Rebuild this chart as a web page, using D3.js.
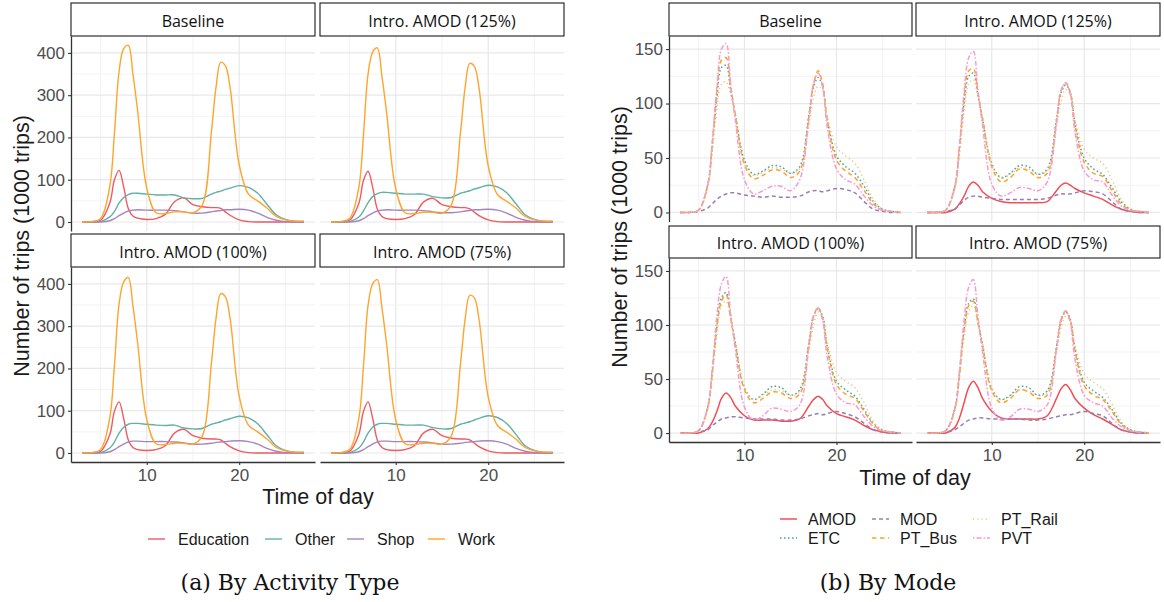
<!DOCTYPE html>
<html>
<head>
<meta charset="utf-8">
<script src="https://cdn.jsdelivr.net/npm/d3@7"></script>
<style>
  body { margin: 0; background: #fff; }
</style>
</head>
<body>
<svg id="fig"></svg>
<script>
// time of day (hours), shared by every series
var time_points = [3, 4, 5, 6, 6.5, 7, 7.5, 8, 8.5, 9, 10, 11, 12, 13, 14, 15, 16, 17, 17.5, 18, 18.5, 19, 20, 21, 22, 23, 24, 25, 26, 27];

var panel_names = ['Baseline', 'Intro. AMOD (125%)', 'Intro. AMOD (100%)', 'Intro. AMOD (75%)'];

// (a) by activity type, 1000 trips
var activity_types = ['Education', 'Other', 'Shop', 'Work'];

var edu_base = [0, 0, 4, 45, 100, 122, 83, 32, 14, 9, 6, 8, 18, 48, 57, 41, 36, 34, 34, 32, 24, 16, 5, 1, 0, 0, 0, 0, 0, 0];
var other_base = [0, 0, 1, 12, 25, 45, 58, 65, 68, 68, 66, 64, 64, 64, 57, 55, 56, 66, 70, 73, 77, 80, 86, 82, 68, 42, 17, 6, 2, 1];
var shop_base = [0, 0, 0, 3, 8, 15, 21, 26, 28, 29, 28, 28, 28, 27, 24, 21, 21, 24, 26, 27, 29, 29, 30, 28, 21, 11, 4, 1, 0, 0];
var work_base = [0, 1, 8, 85, 210, 356, 410, 418, 350, 265, 80, 22, 20, 24, 24, 22, 40, 215, 320, 378, 370, 320, 135, 66, 50, 33, 13, 5, 2, 2];

var edu_125 = [0, 0, 4, 44, 98, 120, 82, 31, 13, 8, 6, 8, 17, 47, 56, 41, 36, 34, 34, 31, 23, 15, 5, 1, 0, 0, 0, 0, 0, 0];
var other_125 = [0, 0, 1, 12, 26, 46, 60, 67, 70, 70, 68, 66, 66, 66, 60, 57, 58, 68, 71, 74, 78, 81, 87, 83, 69, 43, 17, 6, 2, 1];
var shop_125 = [0, 0, 0, 3, 8, 15, 21, 26, 28, 29, 28, 28, 28, 27, 24, 22, 22, 24, 26, 27, 29, 29, 30, 28, 21, 11, 4, 1, 0, 0];
var work_125 = [0, 1, 8, 82, 205, 350, 402, 412, 345, 260, 78, 22, 20, 23, 23, 21, 40, 212, 318, 375, 368, 318, 133, 65, 49, 33, 13, 5, 2, 2];

var edu_100 = [0, 0, 4, 44, 99, 121, 82, 31, 13, 8, 6, 8, 17, 47, 56, 41, 35, 33, 33, 31, 23, 15, 5, 1, 0, 0, 0, 0, 0, 0];
var other_100 = [0, 0, 1, 12, 26, 47, 61, 68, 70, 70, 68, 66, 65, 66, 59, 57, 58, 68, 71, 74, 78, 81, 87, 83, 69, 43, 17, 6, 2, 1];
var shop_100 = [0, 0, 0, 3, 8, 15, 21, 26, 28, 28, 27, 27, 27, 26, 24, 21, 21, 23, 25, 26, 27, 28, 29, 27, 21, 11, 4, 1, 0, 0];
var work_100 = [0, 1, 8, 84, 208, 352, 405, 415, 348, 262, 79, 22, 20, 23, 23, 21, 40, 214, 320, 377, 370, 320, 134, 66, 50, 33, 13, 5, 2, 2];

var edu_75 = [0, 0, 4, 44, 98, 121, 82, 31, 13, 8, 6, 8, 17, 47, 56, 41, 35, 33, 33, 31, 23, 15, 5, 1, 0, 0, 0, 0, 0, 0];
var other_75 = [0, 0, 1, 12, 26, 47, 61, 68, 70, 70, 68, 66, 66, 66, 60, 57, 58, 68, 71, 74, 78, 82, 88, 84, 70, 44, 17, 6, 2, 1];
var shop_75 = [0, 0, 0, 3, 8, 15, 21, 26, 28, 28, 27, 27, 27, 26, 24, 21, 21, 23, 25, 26, 27, 28, 29, 27, 21, 11, 4, 1, 0, 0];
var work_75 = [0, 1, 8, 82, 204, 349, 400, 410, 344, 259, 78, 22, 20, 23, 23, 21, 40, 211, 316, 373, 367, 317, 133, 65, 49, 33, 13, 5, 2, 2];

// (b) by mode, 1000 trips (no AMOD in the baseline)
var modes = ['AMOD', 'ETC', 'MOD', 'PT_Bus', 'PT_Rail', 'PVT'];

var etc_base = [0, 0, 2, 25, 60, 105, 133, 135, 112, 90, 48, 35, 38, 43, 42, 36, 42, 90, 115, 124, 115, 85, 52, 42, 36, 24, 10, 3, 1, 0];
var mod_base = [0, 0, 1, 4, 8, 12, 15, 17, 18, 18, 16, 15, 14, 15, 14, 14, 15, 19, 20, 20, 19, 20, 22, 21, 18, 10, 3, 1, 0, 0];
var bus_base = [0, 0, 2, 25, 62, 110, 140, 142, 115, 90, 44, 31, 34, 39, 38, 32, 38, 88, 118, 130, 118, 85, 48, 38, 32, 20, 8, 2, 1, 0];
var rail_base = [0, 0, 2, 22, 55, 95, 118, 120, 108, 88, 46, 34, 37, 41, 40, 36, 40, 80, 105, 116, 112, 88, 60, 52, 45, 30, 12, 3, 1, 0];
var pvt_base = [0, 0, 2, 25, 65, 115, 150, 155, 118, 85, 30, 17, 20, 24, 24, 20, 30, 85, 118, 128, 115, 78, 40, 30, 26, 15, 6, 2, 1, 0];

var amod_125 = [0, 0, 0, 3, 8, 15, 24, 28, 25, 19, 13, 10, 9, 9, 9, 9, 10, 20, 25, 27, 25, 22, 18, 15, 12, 7, 3, 1, 0, 0];
var etc_125 = [0, 0, 2, 24, 58, 100, 125, 128, 108, 86, 45, 32, 36, 43, 42, 35, 40, 86, 110, 117, 110, 82, 50, 40, 35, 23, 10, 3, 1, 0];
var mod_125 = [0, 0, 1, 3, 7, 11, 14, 15, 15, 14, 13, 12, 12, 12, 12, 12, 13, 16, 17, 17, 17, 18, 20, 19, 17, 10, 3, 1, 0, 0];
var bus_125 = [0, 0, 2, 24, 60, 105, 130, 132, 110, 86, 42, 28, 32, 40, 38, 32, 36, 84, 112, 119, 110, 80, 46, 36, 33, 20, 8, 2, 1, 0];
var rail_125 = [0, 0, 2, 21, 52, 92, 118, 122, 105, 85, 44, 32, 35, 41, 40, 35, 38, 78, 102, 113, 108, 86, 58, 50, 45, 30, 12, 3, 1, 0];
var pvt_125 = [0, 0, 2, 24, 62, 110, 142, 148, 112, 80, 26, 15, 18, 23, 22, 20, 28, 82, 112, 119, 108, 74, 38, 30, 28, 16, 6, 2, 1, 0];

var amod_100 = [0, 0, 0, 4, 10, 20, 32, 37, 33, 25, 16, 12, 12, 12, 11, 11, 13, 25, 31, 34, 31, 25, 18, 15, 12, 7, 3, 1, 0, 0];
var etc_100 = [0, 0, 2, 24, 56, 98, 125, 130, 108, 84, 42, 31, 36, 43, 42, 35, 40, 84, 108, 115, 108, 80, 48, 40, 34, 22, 9, 3, 1, 0];
var mod_100 = [0, 0, 1, 3, 7, 10, 13, 14, 15, 15, 14, 13, 13, 13, 12, 12, 13, 16, 17, 18, 17, 18, 20, 18, 15, 9, 3, 1, 0, 0];
var bus_100 = [0, 0, 2, 23, 56, 98, 122, 128, 106, 82, 40, 28, 32, 38, 37, 32, 36, 82, 108, 116, 106, 78, 45, 36, 32, 20, 8, 2, 1, 0];
var rail_100 = [0, 0, 2, 21, 52, 92, 118, 122, 105, 84, 43, 31, 35, 40, 39, 35, 38, 76, 100, 112, 106, 84, 56, 48, 42, 28, 11, 3, 1, 0];
var pvt_100 = [0, 0, 2, 24, 60, 108, 138, 145, 110, 78, 24, 12, 16, 23, 22, 20, 26, 80, 108, 116, 104, 70, 36, 28, 26, 15, 6, 2, 1, 0];

var amod_75 = [0, 0, 0, 5, 14, 28, 42, 48, 42, 32, 20, 14, 13, 13, 13, 13, 16, 32, 41, 45, 40, 32, 23, 17, 13, 8, 3, 1, 0, 0];
var etc_75 = [0, 0, 2, 23, 54, 95, 120, 124, 104, 82, 41, 31, 35, 43, 42, 35, 39, 80, 104, 112, 105, 78, 47, 39, 33, 22, 9, 3, 1, 0];
var mod_75 = [0, 0, 1, 3, 6, 9, 12, 13, 14, 14, 13, 13, 13, 13, 12, 12, 13, 15, 16, 17, 17, 18, 20, 18, 16, 9, 3, 1, 0, 0];
var bus_75 = [0, 0, 2, 22, 54, 95, 118, 122, 102, 80, 39, 28, 32, 40, 38, 32, 35, 78, 104, 113, 104, 76, 44, 35, 31, 20, 8, 2, 1, 0];
var rail_75 = [0, 0, 2, 20, 50, 88, 112, 118, 100, 82, 42, 31, 34, 40, 39, 35, 37, 74, 98, 108, 104, 82, 55, 47, 41, 27, 11, 3, 1, 0];
var pvt_75 = [0, 0, 2, 23, 58, 104, 135, 142, 108, 75, 23, 12, 15, 22, 22, 20, 26, 78, 106, 113, 102, 68, 35, 28, 25, 14, 6, 2, 1, 0];

// tables keyed by panel -> series
var activity_table = {
  'Baseline': { Education: edu_base, Other: other_base, Shop: shop_base, Work: work_base },
  'Intro. AMOD (125%)': { Education: edu_125, Other: other_125, Shop: shop_125, Work: work_125 },
  'Intro. AMOD (100%)': { Education: edu_100, Other: other_100, Shop: shop_100, Work: work_100 },
  'Intro. AMOD (75%)': { Education: edu_75, Other: other_75, Shop: shop_75, Work: work_75 }
};
var mode_table = {
  'Baseline': { AMOD: null, ETC: etc_base, MOD: mod_base, PT_Bus: bus_base, PT_Rail: rail_base, PVT: pvt_base },
  'Intro. AMOD (125%)': { AMOD: amod_125, ETC: etc_125, MOD: mod_125, PT_Bus: bus_125, PT_Rail: rail_125, PVT: pvt_125 },
  'Intro. AMOD (100%)': { AMOD: amod_100, ETC: etc_100, MOD: mod_100, PT_Bus: bus_100, PT_Rail: rail_100, PVT: pvt_100 },
  'Intro. AMOD (75%)': { AMOD: amod_75, ETC: etc_75, MOD: mod_75, PT_Bus: bus_75, PT_Rail: rail_75, PVT: pvt_75 }
};

var activity_colors = { Education: '#ef5a62', Other: '#62b0a6', Shop: '#a784bd', Work: '#ffa42c' };
var mode_colors = { AMOD: '#ef4f57', ETC: '#4ba7a0', MOD: '#9a7cb3', PT_Bus: '#ffa028', PT_Rail: '#e8c784', PVT: '#f79bd0' };
var mode_dash = { AMOD: null, ETC: '1.6,2.4', MOD: '4,3', PT_Bus: '4.5,3.5', PT_Rail: '1.2,3', PVT: '1.5,2,5,2' };

var svg_width = 1164, svg_height = 602;
var svg = d3.select('#fig').attr('width', svg_width).attr('height', svg_height);
var sans = 'Liberation Sans, Arial, sans-serif';
var strip_font = 'Open Sans, sans-serif';

function draw_facets(cfg) {
  var g = svg.append('g');
  var x_domain = [1.8, 28.2];

  panel_names.forEach(function(name, i) {
    var col = i % 2, row = Math.floor(i / 2);
    var xr = cfg.cols[col], rr = cfg.rows[row];
    var x = d3.scaleLinear().domain(x_domain).range(xr);
    var y = d3.scaleLinear().domain(cfg.y_domain).range([rr.panel[1], rr.panel[0]]);
    var p = g.append('g');

    // grid, minor first
    p.selectAll('.ymin').data(cfg.y_minor).enter().append('line')
      .attr('x1', xr[0]).attr('x2', xr[1])
      .attr('y1', function(d) { return y(d); }).attr('y2', function(d) { return y(d); })
      .attr('stroke', '#f3f3f3').attr('stroke-width', 1);
    p.selectAll('.xmin').data([5, 15, 25]).enter().append('line')
      .attr('y1', rr.panel[0]).attr('y2', rr.panel[1])
      .attr('x1', function(d) { return x(d); }).attr('x2', function(d) { return x(d); })
      .attr('stroke', '#f3f3f3').attr('stroke-width', 1);
    p.selectAll('.ymaj').data(cfg.y_ticks).enter().append('line')
      .attr('x1', xr[0]).attr('x2', xr[1])
      .attr('y1', function(d) { return y(d); }).attr('y2', function(d) { return y(d); })
      .attr('stroke', '#e8e8e8').attr('stroke-width', 1.2);
    p.selectAll('.xmaj').data([10, 20]).enter().append('line')
      .attr('y1', rr.panel[0]).attr('y2', rr.panel[1])
      .attr('x1', function(d) { return x(d); }).attr('x2', function(d) { return x(d); })
      .attr('stroke', '#e8e8e8').attr('stroke-width', 1.2);

    var line = d3.line()
      .x(function(d, k) { return x(time_points[k]); })
      .y(function(d) { return y(d); })
      .curve(d3.curveCatmullRom.alpha(0.5));

    cfg.series.forEach(function(s) {
      var vals = cfg.table[name][s];
      if (!vals) return;
      p.append('path')
        .attr('d', line(vals))
        .attr('fill', 'none')
        .attr('stroke', cfg.colors[s])
        .attr('stroke-width', cfg.line_width)
        .attr('stroke-dasharray', cfg.dash ? cfg.dash[s] : null)
        .attr('stroke-linejoin', 'round');
    });

    // strip
    p.append('rect')
      .attr('x', xr[0]).attr('y', rr.strip[0])
      .attr('width', xr[1] - xr[0]).attr('height', rr.strip[1] - rr.strip[0])
      .attr('fill', '#fff').attr('stroke', '#1a1a1a').attr('stroke-width', 1.1);
    p.append('text')
      .attr('x', (xr[0] + xr[1]) / 2).attr('y', (rr.strip[0] + rr.strip[1]) / 2 + 1)
      .attr('text-anchor', 'middle').attr('dominant-baseline', 'central')
      .style('font-family', strip_font).style('font-size', '16px').style('fill', '#111')
      .text(name);

    if (col === 0) {
      var ya = p.append('g').attr('transform', 'translate(' + xr[0] + ',0)')
        .call(d3.axisLeft(y).tickValues(cfg.y_ticks).tickSize(3).tickSizeOuter(0).tickPadding(3));
      style_axis(ya);
    }
    if (row === 1) {
      var xa = p.append('g').attr('transform', 'translate(0,' + rr.panel[1] + ')')
        .call(d3.axisBottom(x).tickValues([10, 20]).tickSize(3).tickSizeOuter(0).tickPadding(4));
      style_axis(xa);
    }
  });

  // axis titles
  g.append('text')
    .attr('transform', 'translate(' + cfg.ytitle[0] + ',' + cfg.ytitle[1] + ') rotate(-90)')
    .attr('text-anchor', 'middle').attr('dominant-baseline', 'central')
    .style('font-family', sans).style('font-size', '21.5px').style('fill', '#1a1a1a')
    .text('Number of trips (1000 trips)');
  g.append('text')
    .attr('x', cfg.xtitle[0]).attr('y', cfg.xtitle[1])
    .attr('text-anchor', 'middle')
    .style('font-family', sans).style('font-size', '21.5px').style('fill', '#1a1a1a')
    .text('Time of day');

  // legend
  var leg = g.selectAll('.leg').data(cfg.series).enter().append('g')
    .attr('transform', function(d, k) { return 'translate(' + cfg.legend[k][0] + ',' + cfg.legend[k][1] + ')'; });
  leg.append('line')
    .attr('x1', 0).attr('x2', 17).attr('y1', 0).attr('y2', 0)
    .attr('stroke', function(d) { return cfg.colors[d]; })
    .attr('stroke-width', cfg.line_width)
    .attr('stroke-dasharray', function(d) { return cfg.dash ? cfg.dash[d] : null; });
  leg.append('text')
    .attr('x', cfg.legend_gap).attr('y', 0).attr('dominant-baseline', 'central')
    .style('font-family', sans).style('font-size', '16px').style('fill', '#1a1a1a')
    .text(function(d) { return d; });

  // caption
  g.append('text')
    .attr('x', cfg.caption[0]).attr('y', cfg.caption[1])
    .attr('text-anchor', 'middle')
    .style('font-family', 'DejaVu Serif, serif').style('font-size', '22px').style('fill', '#111')
    .text(cfg.caption_text);
}

function style_axis(a) {
  a.select('.domain').attr('stroke', '#333').attr('stroke-width', 1.3);
  a.selectAll('.tick line').attr('stroke', '#333').attr('stroke-width', 1.1);
  a.selectAll('.tick text')
    .style('font-family', sans).style('font-size', '17px').attr('fill', '#4d4d4d');
}

// (a) by activity type
draw_facets({
  table: activity_table,
  series: activity_types,
  colors: activity_colors,
  dash: null,
  line_width: 1.4,
  cols: [[71, 315], [320, 564]],
  rows: [{ strip: [3, 36], panel: [36, 231] }, { strip: [234, 267], panel: [267, 462] }],
  y_domain: [-21.3, 440],
  y_ticks: [0, 100, 200, 300, 400],
  y_minor: [50, 150, 250, 350],
  ytitle: [22, 246],
  xtitle: [318, 504],
  legend: [[148, 539], [265, 539], [347, 539], [428, 539]],
  legend_gap: 30,
  caption: [290, 590],
  caption_text: '(a) By Activity Type'
});

// (b) by mode
draw_facets({
  table: mode_table,
  series: modes,
  colors: mode_colors,
  dash: mode_dash,
  line_width: 1.5,
  cols: [[669, 912], [916, 1160]],
  rows: [{ strip: [3, 36], panel: [36, 221.5] }, { strip: [226, 258], panel: [258, 442] }],
  y_domain: [-8.3, 162],
  y_ticks: [0, 50, 100, 150],
  y_minor: [25, 75, 125],
  ytitle: [620, 237],
  xtitle: [915, 485],
  legend: [[780, 519], [780, 538], [872, 519], [872, 538], [973, 519], [973, 538]],
  legend_gap: 28,
  caption: [888, 590],
  caption_text: '(b) By Mode'
});
</script>
</body>
</html>
